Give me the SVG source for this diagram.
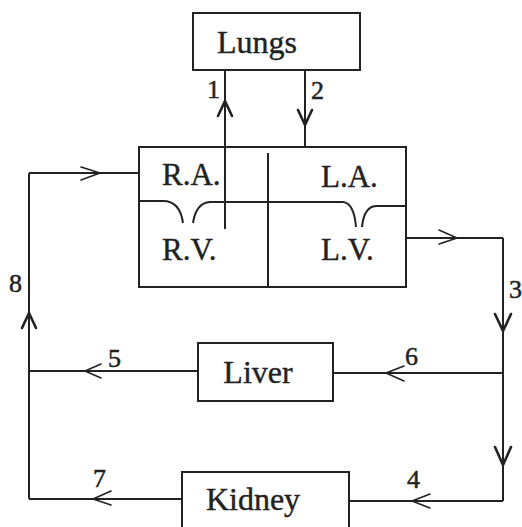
<svg xmlns="http://www.w3.org/2000/svg" width="522" height="527" viewBox="0 0 522 527">
<style>
.box{fill:#fff;stroke:#222;stroke-width:2}
.ln{fill:none;stroke:#222;stroke-width:2}
.ah{fill:none;stroke:#222;stroke-width:1.6;stroke-linecap:round;stroke-linejoin:round}
.ahb{fill:none;stroke:#222;stroke-width:2.6;stroke-linecap:round;stroke-linejoin:miter}
.lbl{font-family:"Liberation Serif","Times New Roman",serif;font-size:32px;fill:#222;stroke:#222;stroke-width:0.4;text-anchor:middle}
.hl{font-family:"Liberation Serif","Times New Roman",serif;font-size:31px;fill:#222;stroke:#222;stroke-width:0.4}
.num{font-family:"Liberation Serif","Times New Roman",serif;font-size:26px;fill:#222;stroke:#222;stroke-width:0.5}
</style>
<rect width="522" height="527" fill="#fff"/>
<g id="connectors">
  <line class="ln" x1="225" y1="229" x2="225" y2="70"/>
  <polyline class="ahb" points="218,116 225,101 232,116"/>
  <line class="ln" x1="305" y1="70" x2="305" y2="166"/>
  <polyline class="ahb" points="298,110 305,125 312,110"/>
  <line class="ln" x1="406" y1="238" x2="503" y2="238"/>
  <polyline class="ah" points="439,230 457,238 439,244"/>
  <line class="ln" x1="503" y1="238" x2="503" y2="501"/>
  <polyline class="ahb" points="495,314 503,331 511,314"/>
  <polyline class="ahb" points="495,447 503,465 511,447"/>
  <line class="ln" x1="333" y1="373" x2="503" y2="373"/>
  <polyline class="ah" points="404,366 386,373 404,381"/>
  <line class="ln" x1="349" y1="501" x2="503" y2="501"/>
  <polyline class="ah" points="430,494 412,501 430,508"/>
  <line class="ln" x1="29" y1="371" x2="198" y2="371"/>
  <polyline class="ah" points="101,364 85,371 101,378"/>
  <line class="ln" x1="29" y1="499" x2="182" y2="499"/>
  <polyline class="ah" points="111,491 93,499 111,505"/>
  <line class="ln" x1="29" y1="499" x2="29" y2="173"/>
  <polyline class="ahb" points="22,328 29,313 36,328"/>
  <line class="ln" x1="29" y1="173" x2="139" y2="173"/>
  <polyline class="ah" points="81,167 100,173 81,180"/>
</g>
<g id="lungs">
  <rect class="box" x="193" y="13" width="167" height="57"/>
  <text class="lbl" x="257" y="53">Lungs</text>
</g>
<g id="heart">
  <rect class="box" x="139" y="147" width="267" height="140"/>
  <line class="ln" x1="268" y1="153" x2="268" y2="287"/>
  <path class="ln" d="M139,201 H163 Q180,201 183,223"/>
  <path class="ln" d="M193,223 Q196,203 210,202 H343 Q354,203 356,227"/>
  <path class="ln" d="M362,227 Q364,206 377,206 H406"/>
  <line class="ln" x1="225" y1="229" x2="225" y2="120"/>
  <text class="hl" x="162" y="185">R.A.</text>
  <text class="hl" x="321" y="187">L.A.</text>
  <text class="hl" x="162" y="260">R.V.</text>
  <text class="hl" x="321" y="260">L.V.</text>
</g>
<g id="liver">
  <rect class="box" x="198" y="343" width="135" height="58"/>
  <text class="lbl" x="258" y="383">Liver</text>
</g>
<g id="kidney">
  <rect class="box" x="182" y="472" width="167" height="64"/>
  <text class="lbl" x="253" y="510">Kidney</text>
</g>
<g id="labels">
  <text class="num" x="207" y="98">1</text>
  <text class="num" x="311" y="99">2</text>
  <text class="num" x="509" y="298">3</text>
  <text class="num" x="407" y="488">4</text>
  <text class="num" x="108" y="367">5</text>
  <text class="num" x="405" y="365">6</text>
  <text class="num" x="93" y="487">7</text>
  <text class="num" x="9" y="292">8</text>
</g>
</svg>
